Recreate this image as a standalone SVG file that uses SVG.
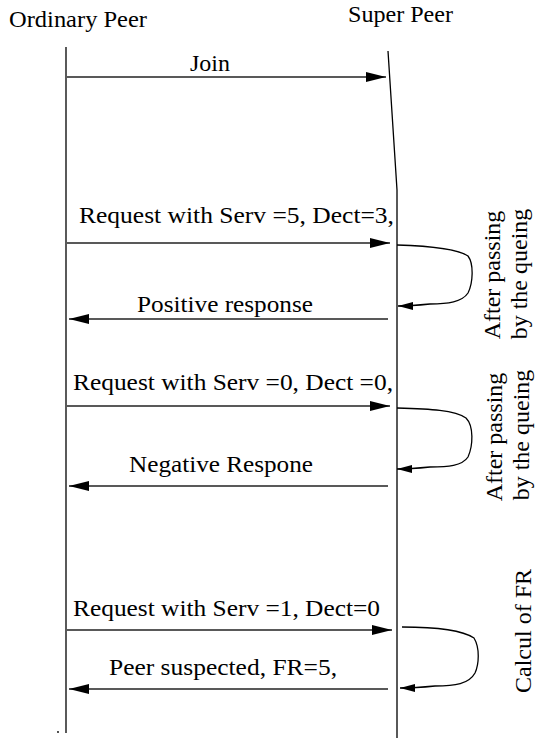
<svg xmlns="http://www.w3.org/2000/svg" width="535" height="738" viewBox="0 0 535 738">
<defs>
<marker id="ah" viewBox="0 0 20 10" refX="20" refY="5" markerWidth="20" markerHeight="10" markerUnits="userSpaceOnUse" orient="auto">
<path d="M0,0 L20,5 L0,10 Z" fill="#000"/>
</marker>
<marker id="ahs" viewBox="0 0 15 8" refX="15" refY="4" markerWidth="15" markerHeight="8" markerUnits="userSpaceOnUse" orient="auto">
<path d="M0,0 L15,4 L0,8 Z" fill="#000"/>
</marker>
</defs>
<style>
.life{stroke:#000;stroke-width:1.3;fill:none}
.msg{stroke:#222;stroke-width:1.4;fill:none;marker-end:url(#ah)}
.loop{stroke:#000;stroke-width:1.3;fill:none;marker-end:url(#ahs)}
text{font-family:'Liberation Serif','Times New Roman',serif;font-size:24px;fill:#000}
</style>
<rect width="535" height="738" fill="#fff"/>
<g id="ordinary-peer">
<text x="9" y="27" textLength="138" lengthAdjust="spacingAndGlyphs">Ordinary Peer</text>
<line class="life" x1="66" y1="47" x2="66" y2="733"/>
<circle cx="58" cy="732" r="0.9" fill="#000"/>
</g>
<g id="super-peer">
<text x="348" y="22" textLength="105" lengthAdjust="spacingAndGlyphs">Super Peer</text>
<polyline class="life" points="388,51 397,190 397,738"/>
</g>
<g id="notes" text-anchor="middle">
<text transform="translate(500,275) rotate(-90)">After passing</text>
<text transform="translate(527,274) rotate(-90)">by the queing</text>
<text transform="translate(502,437) rotate(-90)">After passing</text>
<text transform="translate(529,435) rotate(-90)">by the queing</text>
<text transform="translate(531,631) rotate(-90)">Calcul of FR</text>
</g>
<g id="connectors">
<line class="msg" x1="67" y1="77" x2="386" y2="77"/>
<text text-anchor="middle" x="210" y="71">Join</text>
<line class="msg" x1="67" y1="243" x2="390" y2="243"/>
<text x="79" y="223" textLength="315" lengthAdjust="spacingAndGlyphs">Request with Serv =5, Dect=3,</text>
<path class="loop" d="M397,245 C430,246 458,249 468,256 C474,264 473,283 468,293 C462,302 448,304 430,304 C420,305 410,306 398,306"/>
<line class="msg" x1="388" y1="319" x2="69" y2="319"/>
<text x="137" y="312" textLength="176" lengthAdjust="spacingAndGlyphs">Positive response</text>
<line class="msg" x1="67" y1="406" x2="390" y2="406"/>
<text x="73" y="390" textLength="320" lengthAdjust="spacingAndGlyphs">Request with Serv =0, Dect =0,</text>
<path class="loop" d="M397,408 C430,409 455,410 466,418 C474,426 473,446 468,457 C462,466 448,467 430,467 C420,468 410,469 397,469"/>
<line class="msg" x1="388" y1="486" x2="69" y2="486"/>
<text x="129" y="472" textLength="184" lengthAdjust="spacingAndGlyphs">Negative Respone</text>
<line class="msg" x1="67" y1="630" x2="392" y2="630"/>
<text x="73" y="616" textLength="307" lengthAdjust="spacingAndGlyphs">Request with Serv =1, Dect=0</text>
<path class="loop" d="M402,627 C435,627 462,630 474,638 C480,648 479,664 475,673 C469,684 455,686 435,686 C425,687 414,688 400,688"/>
<line class="msg" x1="388" y1="689" x2="69" y2="689"/>
<text x="109" y="675" textLength="228" lengthAdjust="spacingAndGlyphs">Peer suspected, FR=5,</text>
</g>
</svg>
